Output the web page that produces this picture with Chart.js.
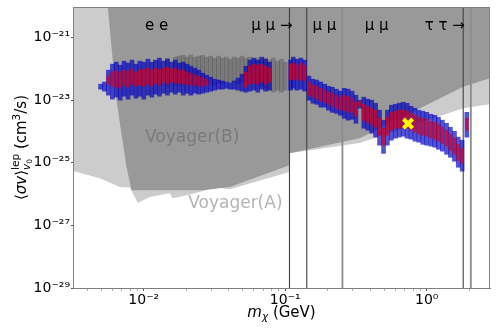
<!DOCTYPE html>
<html>
<head>
<meta charset="utf-8">
<script src="https://cdn.jsdelivr.net/npm/chart.js@4.4.1/dist/chart.umd.min.js"></script>
<style>
  html, body { margin: 0; padding: 0; background: #fff; }
  #wrap { width: 498px; height: 332px; }
</style>
</head>
<body>
<div id="wrap"><canvas id="chart" width="498" height="332"></canvas></div>
<script>
const FONT = '"DejaVu Sans", "Noto Sans", sans-serif';
const X_MIN = 0.00316, X_MAX = 2.8;
const Y_MIN = 1e-29, Y_MAX = 9.5e-21;

// axis ticks
const xTickValues = [0.004, 0.005, 0.006, 0.007, 0.008, 0.009, 0.01, 0.02, 0.03, 0.04, 0.05, 0.06, 0.07, 0.08, 0.09,
  0.1, 0.2, 0.3, 0.4, 0.5, 0.6, 0.7, 0.8, 0.9, 1, 2];
const xTickLabels = ['', '', '', '', '', '', '10⁻²', '', '', '', '', '', '', '', '',
  '10⁻¹', '', '', '', '', '', '', '', '', '10⁰', ''];
const yTickValues = [1e-29, 1e-27, 1e-25, 1e-23, 1e-21];
const yTickLabels = ['10⁻²⁹', '10⁻²⁷', '10⁻²⁵', '10⁻²³', '10⁻²¹'];

// Voyager limits (region above each curve is excluded)
const voyagerAMass = [0.00316, 0.00489, 0.00676, 0.00796, 0.00908, 0.0110, 0.0153, 0.0160, 0.0201, 0.0328, 0.0406,
  0.1071, 0.1072, 0.336, 1.81, 2.8];
const voyagerALimit = [5.47e-26, 3.19e-26, 1.68e-26, 1.64e-26, 5.17e-27, 8.05e-27, 1.06e-26, 7.31e-27, 9.12e-27, 1.64e-26, 1.42e-26,
  5.08e-26, 2.01e-25, 4.3e-25, 5.55e-24, 7.45e-24];
const voyagerBMass = [0.00557, 0.00641, 0.00755, 0.00819, 0.0261, 0.0406, 0.1071, 0.1072, 0.336, 1.81, 2.8];
const voyagerBLimit = [9.5e-21, 1e-23, 7.34e-26, 1.32e-26, 1.32e-26, 1.68e-26, 8.32e-26, 2.01e-25, 6.08e-25, 2.67e-23, 5.06e-23];

// thresholds
const vLineMass = [0.1071, 0.1419, 0.2536, 1.81, 2.05];
const vLineColor = ['#404040', '#404040', '#8c8c8c', '#404040', '#8c8c8c'];
const vLineWidth = [1.1, 1.1, 1.8, 1.1, 1.8];

// fitted <sigma v> : outer (blue) and inner (red) ranges
const blueMass = [0.00495, 0.00527, 0.00562, 0.0060, 0.00639, 0.00681, 0.00726, 0.00774, 0.00825, 0.0088,
  0.00938, 0.0100, 0.0107, 0.0114, 0.0121, 0.0129, 0.0138, 0.0147, 0.0157, 0.0167,
  0.0178, 0.0190, 0.0202, 0.0215, 0.0230, 0.0245, 0.0261, 0.0278, 0.0297, 0.0316,
  0.0337, 0.0359, 0.0383, 0.0408, 0.0435, 0.0464, 0.0495, 0.0527, 0.0562, 0.0600,
  0.0639, 0.0681, 0.0726, 0.0774,
  0.109, 0.114, 0.121, 0.129, 0.137, 0.147,
  0.157, 0.167, 0.178, 0.190, 0.202, 0.215, 0.230, 0.245, 0.261, 0.278,
  0.297, 0.316, 0.337, 0.359, 0.383, 0.408, 0.435, 0.464, 0.495, 0.527,
  0.562, 0.600, 0.639, 0.681, 0.726, 0.774, 0.825, 0.880, 0.938, 1.00,
  1.07, 1.14, 1.21, 1.29, 1.38, 1.47, 1.57, 1.67, 1.78, 1.92];
const blueHigh = [3.25e-23, 3.8e-23, 9.1e-23, 1.42e-22, 1.64e-22, 1.32e-22, 1.77e-22, 1.53e-22, 1.91e-22, 1.42e-22,
  1.77e-22, 1.64e-22, 2.05e-22, 1.64e-22, 1.91e-22, 2.21e-22, 1.77e-22, 2.05e-22, 1.64e-22, 1.91e-22,
  1.53e-22, 1.64e-22, 1.42e-22, 1.22e-22, 1.06e-22, 9.1e-23, 7.3e-23, 6.3e-23, 5.4e-23, 4.7e-23,
  4.4e-23, 4.1e-23, 3.8e-23, 3.5e-23, 4.1e-23, 5.1e-23, 6.8e-23, 1.22e-22, 1.91e-22, 2.21e-22,
  1.91e-22, 2.38e-22, 2.05e-22, 1.64e-22,
  1.91e-22, 2.38e-22, 2.05e-22, 2.21e-22, 1.91e-22, 5.9e-23,
  4.7e-23, 4.4e-23, 3.8e-23, 3.25e-23, 2.8e-23, 2.6e-23, 2.25e-23, 1.94e-23, 2.4e-23, 2.25e-23,
  1.94e-23, 1.45e-23, 1.0e-23, 1.25e-23, 1.08e-23, 1.0e-23, 8.0e-24, 4.8e-24, 2.3e-24, 4.8e-24,
  6.9e-24, 7.4e-24, 8.0e-24, 8.6e-24, 8.0e-24, 6.4e-24, 5.55e-24, 4.8e-24, 4.45e-24, 4.1e-24,
  3.55e-24, 3.3e-24, 2.85e-24, 2.3e-24, 1.83e-24, 1.36e-24, 1.02e-24, 6.6e-25, 5.25e-25, 4.1e-24];
const blueLow = [2.25e-23, 1.94e-23, 1.45e-23, 1.08e-23, 1.25e-23, 1.0e-23, 1.34e-23, 1.08e-23, 1.45e-23, 1.16e-23,
  1.34e-23, 1.08e-23, 1.45e-23, 1.25e-23, 1.56e-23, 1.34e-23, 1.67e-23, 1.45e-23, 1.8e-23, 1.56e-23,
  1.8e-23, 1.45e-23, 1.67e-23, 1.45e-23, 1.67e-23, 1.56e-23, 1.67e-23, 1.8e-23, 1.94e-23, 2.1e-23,
  2.25e-23, 2.25e-23, 2.4e-23, 2.25e-23, 2.25e-23, 2.1e-23, 1.94e-23, 1.8e-23, 1.94e-23, 2.1e-23,
  1.8e-23, 2.25e-23, 1.94e-23, 2.1e-23,
  2.1e-23, 2.4e-23, 2.1e-23, 2.25e-23, 1.94e-23, 1.0e-23,
  8.0e-24, 7.4e-24, 6.0e-24, 6.0e-24, 4.8e-24, 4.1e-24, 3.8e-24, 3.3e-24, 2.65e-24, 2.3e-24,
  2.45e-24, 1.83e-24, 5.55e-24, 1.27e-24, 1.1e-24, 8.8e-25, 6.6e-25, 3.65e-25, 2.0e-25, 3.65e-25,
  5.25e-25, 6.1e-25, 6.6e-25, 7.06e-25, 6.1e-25, 5.7e-25, 4.9e-25, 4.55e-25, 3.9e-25, 3.65e-25,
  3.4e-25, 3.15e-25, 2.7e-25, 2.35e-25, 1.87e-25, 1.5e-25, 1.12e-25, 7.2e-26, 5.4e-26, 6.6e-25];

const redMass = [0.00562, 0.0060, 0.00639, 0.00681, 0.00726, 0.00774, 0.00825, 0.0088, 0.00938, 0.0100,
  0.0107, 0.0114, 0.0121, 0.0129, 0.0138, 0.0147, 0.0157, 0.0167, 0.0178, 0.0190,
  0.0202, 0.0215, 0.0230, 0.0245, 0.0261, 0.0278,
  0.0527, 0.0562, 0.0600, 0.0639, 0.0681, 0.0726, 0.0774,
  0.109, 0.114, 0.121, 0.129, 0.137,
  0.147, 0.157, 0.167, 0.178, 0.190, 0.202, 0.215, 0.230, 0.245, 0.261,
  0.278, 0.297, 0.316, 0.337, 0.359, 0.383, 0.408, 0.435, 0.464, 0.495,
  0.527, 0.562, 0.600, 0.639, 0.681, 0.726, 0.774, 0.825, 0.880, 0.938,
  1.00, 1.07, 1.14, 1.21, 1.29, 1.38, 1.47, 1.57, 1.67, 1.78,
  1.92];
const redHigh = [5.9e-23, 7.9e-23, 9.1e-23, 7.9e-23, 9.1e-23, 8.5e-23, 9.8e-23, 7.9e-23, 9.1e-23, 9.8e-23,
  1.06e-22, 9.1e-23, 1.06e-22, 9.8e-23, 1.06e-22, 1.14e-22, 9.8e-23, 1.06e-22, 9.1e-23, 9.1e-23,
  7.9e-23, 7.3e-23, 6.3e-23, 5.9e-23, 5.1e-23, 4.7e-23,
  7.9e-23, 1.22e-22, 1.42e-22, 1.32e-22, 1.42e-22, 1.22e-22, 1.06e-22,
  1.42e-22, 1.53e-22, 1.32e-22, 1.53e-22, 1.32e-22,
  3.8e-23, 3.0e-23, 2.8e-23, 2.4e-23, 2.1e-23, 1.8e-23, 1.67e-23, 1.45e-23, 1.25e-23, 1.45e-23,
  1.34e-23, 1.16e-23, 8.6e-24, 9.3e-24, 7.4e-24, 6.4e-24, 5.55e-24, 4.8e-24, 2.65e-24, 1.27e-24,
  2.85e-24, 4.1e-24, 4.45e-24, 4.8e-24, 4.8e-24, 4.45e-24, 3.8e-24, 3.3e-24, 2.85e-24, 2.65e-24,
  2.45e-24, 2.1e-24, 1.97e-24, 1.7e-24, 1.36e-24, 1.1e-24, 8.2e-25, 6.1e-25, 3.9e-25, 2.9e-25,
  2.65e-24];
const redLow = [3.25e-23, 2.8e-23, 2.6e-23, 2.4e-23, 3.0e-23, 2.6e-23, 3.25e-23, 2.8e-23, 3.0e-23, 2.8e-23,
  3.25e-23, 2.8e-23, 3.5e-23, 3.0e-23, 3.8e-23, 3.25e-23, 3.8e-23, 3.5e-23, 3.5e-23, 3.25e-23,
  3.25e-23, 3.0e-23, 3.0e-23, 2.8e-23, 2.8e-23, 3.0e-23,
  2.6e-23, 3.25e-23, 3.5e-23, 3.25e-23, 3.8e-23, 3.25e-23, 3.8e-23,
  4.4e-23, 4.7e-23, 4.4e-23, 4.4e-23, 4.1e-23,
  1.45e-23, 1.25e-23, 1.08e-23, 9.3e-24, 8.6e-24, 7.4e-24, 6.4e-24, 5.55e-24, 4.8e-24, 4.8e-24,
  4.1e-24, 4.1e-24, 3.06e-24, 6.4e-24, 2.3e-24, 1.97e-24, 1.7e-24, 1.36e-24, 7.6e-25, 3.65e-25,
  7.6e-25, 1.1e-24, 1.27e-24, 1.27e-24, 1.36e-24, 1.27e-24, 1.1e-24, 9.5e-25, 8.2e-25, 7.6e-25,
  7.06e-25, 6.1e-25, 5.7e-25, 4.9e-25, 4.2e-25, 3.4e-25, 2.5e-25, 1.87e-25, 1.2e-25, 9.6e-26,
  1.1e-24];

// excluded (black) samples
const blackMass = [0.0129, 0.0147, 0.0167, 0.0178, 0.0190, 0.0202, 0.0215, 0.0230, 0.0245, 0.0261,
  0.0278, 0.0297, 0.0316, 0.0337, 0.0359, 0.0383, 0.0408, 0.0435, 0.0464, 0.0495,
  0.0527, 0.0562, 0.0600, 0.0639, 0.0681, 0.0726, 0.0774, 0.0825, 0.0880, 0.0938, 0.100];
const blackHigh = [1.64e-22, 2.21e-22, 2.38e-22, 2.56e-22, 2.75e-22, 2.38e-22, 2.75e-22, 2.38e-22, 2.56e-22, 2.75e-22,
  2.38e-22, 2.56e-22, 2.21e-22, 2.56e-22, 2.21e-22, 2.38e-22, 2.05e-22, 2.38e-22, 2.21e-22, 2.56e-22,
  2.21e-22, 2.38e-22, 2.05e-22, 2.21e-22, 1.91e-22, 2.21e-22, 1.91e-22, 2.21e-22, 1.77e-22, 2.05e-22, 1.64e-22];
const blackLow = [2.8e-23, 2.8e-23, 3.0e-23, 3.25e-23, 3.0e-23, 3.5e-23, 3.25e-23, 2.8e-23, 3.25e-23, 3.0e-23,
  3.5e-23, 3.25e-23, 3.0e-23, 3.5e-23, 3.25e-23, 3.8e-23, 3.5e-23, 3.8e-23, 3.25e-23, 3.5e-23,
  3.8e-23, 3.25e-23, 3.5e-23, 3.0e-23, 2.8e-23, 2.4e-23, 2.1e-23, 1.8e-23, 2.1e-23, 1.8e-23, 2.1e-23];

// best fit point
const starMass = [0.738];
const starValue = [1.79e-24];

// text labels (left edge, baseline)
const channelText = ['e e', 'μ μ →', 'μ μ', 'μ μ', 'τ τ →'];
const channelMass = [0.0102, 0.0575, 0.1556, 0.365, 0.968];
const channelValue = 1.74e-21;
const regionText = ['Voyager(B)', 'Voyager(A)'];
const regionMass = [0.0102, 0.0206];
const regionValue = [4.63e-25, 3.68e-27];
const regionColor = ['#7a7a7a', '#b4b4b4'];

const pairs = (xs, ys) => xs.map((x, i) => ({x: x, y: ys[i]}));
const ranges = (xs, lo, hi) => xs.map((x, i) => ({x: x, y: [lo[i], hi[i]]}));

const datasets = [
  {type: 'line', data: pairs(starMass, starValue), showLine: false, pointStyle: 'crossRot',
    pointRadius: 6.5, pointBorderWidth: 4, pointBorderColor: '#ffff00', pointBackgroundColor: '#ffff00', order: 0},
  {type: 'bar', data: ranges(redMass, redLow, redHigh), backgroundColor: 'rgba(215,0,25,0.7)',
    barThickness: 3, grouped: false, order: 1},
  {type: 'bar', data: ranges(blueMass, blueLow, blueHigh), backgroundColor: 'rgba(0,0,190,0.68)',
    barThickness: 4, grouped: false, order: 2},
  {type: 'bar', data: ranges(blackMass, blackLow, blackHigh), backgroundColor: 'rgba(30,30,30,0.25)',
    barThickness: 4, grouped: false, order: 3}
];
vLineMass.forEach((m, i) => {
  datasets.push({type: 'line', data: [{x: m, y: Y_MIN}, {x: m, y: Y_MAX}], borderColor: vLineColor[i],
    borderWidth: vLineWidth[i], pointRadius: 0, fill: false, order: 4});
});
datasets.push({type: 'line', data: pairs(voyagerBMass, voyagerBLimit), fill: 'end', backgroundColor: '#999999',
  borderWidth: 0, pointRadius: 0, tension: 0, order: 5});
datasets.push({type: 'line', data: pairs(voyagerAMass, voyagerALimit), fill: 'end', backgroundColor: '#cccccc',
  borderWidth: 0, pointRadius: 0, tension: 0, order: 6});

function pieceFont(p) { return (p.it ? 'italic ' : '') + p.s + 'px ' + FONT; }
function runWidth(ctx, run) {
  let w = 0;
  run.forEach(p => { ctx.font = pieceFont(p); w += ctx.measureText(p.t).width; });
  return w;
}
function drawRun(ctx, run, x, y) {
  run.forEach(p => { ctx.font = pieceFont(p); ctx.fillText(p.t, x, y + (p.dy || 0)); x += ctx.measureText(p.t).width; });
  return x;
}
function groupWidth(ctx, g) {
  return Array.isArray(g) ? runWidth(ctx, g) : Math.max(runWidth(ctx, g.over), runWidth(ctx, g.under));
}
function drawTitle(ctx, groups, cx, y) {
  let total = 0;
  groups.forEach(g => { total += groupWidth(ctx, g); });
  let x = cx - total / 2;
  groups.forEach(g => {
    if (Array.isArray(g)) { x = drawRun(ctx, g, x, y); }
    else { drawRun(ctx, g.over, x, y); drawRun(ctx, g.under, x, y); x += groupWidth(ctx, g); }
  });
}

const xTitle = [[{t: 'm', s: 15, it: true}, {t: 'χ', s: 10.5, it: true, dy: 3}, {t: ' (GeV)', s: 15}]];
const yTitle = [
  [{t: '⟨', s: 15}, {t: 'σv', s: 15, it: true}, {t: '⟩', s: 15}],
  {over: [{t: 'lep', s: 10.5, dy: -7}], under: [{t: 'v', s: 10.5, it: true, dy: 4}, {t: '0', s: 7.5, dy: 6}]},
  [{t: ' (cm', s: 15}, {t: '3', s: 10.5, dy: -6}, {t: '/s)', s: 15}]
];

const decorations = {
  id: 'decorations',
  afterDatasetsDraw(chart) {
    const ctx = chart.ctx, xs = chart.scales.x, ys = chart.scales.y;
    ctx.save();
    ctx.textBaseline = 'alphabetic';
    ctx.textAlign = 'left';
    ctx.fillStyle = '#000';
    ctx.font = '15px ' + FONT;
    channelText.forEach((t, i) => {
      ctx.fillText(t, xs.getPixelForValue(channelMass[i]), ys.getPixelForValue(channelValue));
    });
    ctx.font = '17px ' + FONT;
    regionText.forEach((t, i) => {
      ctx.fillStyle = regionColor[i];
      ctx.fillText(t, xs.getPixelForValue(regionMass[i]), ys.getPixelForValue(regionValue[i]));
    });
    ctx.restore();
  },
  afterDraw(chart) {
    const ctx = chart.ctx, a = chart.chartArea;
    ctx.save();
    ctx.strokeStyle = '#808080';
    ctx.lineWidth = 1;
    ctx.strokeRect(a.left + 0.5, a.top + 0.5, a.right - a.left - 1, a.bottom - a.top);
    ctx.fillStyle = '#000';
    ctx.textBaseline = 'alphabetic';
    ctx.textAlign = 'left';
    drawTitle(ctx, xTitle, (a.left + a.right) / 2, 317);
    ctx.translate(26, (a.top + a.bottom) / 2);
    ctx.rotate(-Math.PI / 2);
    drawTitle(ctx, yTitle, 0, 0);
    ctx.restore();
  }
};

new Chart(document.getElementById('chart'), {
  type: 'bar',
  data: {datasets: datasets},
  options: {
    responsive: false,
    devicePixelRatio: 1,
    animation: false,
    events: [],
    layout: {autoPadding: false, padding: {left: 0, right: 8, top: 7, bottom: 0}},
    plugins: {legend: {display: false}, tooltip: {enabled: false}, title: {display: false}},
    scales: {
      x: {
        type: 'logarithmic',
        min: X_MIN,
        max: X_MAX,
        offset: false,
        afterBuildTicks: (scale) => { scale.ticks = xTickValues.map(v => ({value: v})); },
        afterFit: (scale) => { scale.height = 44; scale.paddingLeft = 0; scale.paddingRight = 0; },
        grid: {
          offset: false,
          drawOnChartArea: false,
          drawTicks: true,
          tickLength: 3,
          tickColor: (c) => (xTickLabels[c.index] ? '#555' : '#b0b0b0')
        },
        border: {color: '#808080', width: 1},
        ticks: {
          autoSkip: false,
          maxRotation: 0,
          minRotation: 0,
          padding: 1,
          color: '#000',
          font: {family: FONT, size: 14},
          callback: (v, i) => xTickLabels[i]
        }
      },
      y: {
        type: 'logarithmic',
        min: Y_MIN,
        max: Y_MAX,
        afterBuildTicks: (scale) => { scale.ticks = yTickValues.map(v => ({value: v})); },
        afterFit: (scale) => { scale.width = 73; scale.paddingTop = 0; scale.paddingBottom = 0; },
        grid: {drawOnChartArea: false, drawTicks: true, tickLength: 2, tickColor: '#555'},
        border: {color: '#808080', width: 1},
        ticks: {
          autoSkip: false,
          padding: 1,
          color: '#000',
          font: {family: FONT, size: 14},
          callback: (v, i) => yTickLabels[i]
        }
      }
    }
  },
  plugins: [decorations]
});
</script>
</body>
</html>
